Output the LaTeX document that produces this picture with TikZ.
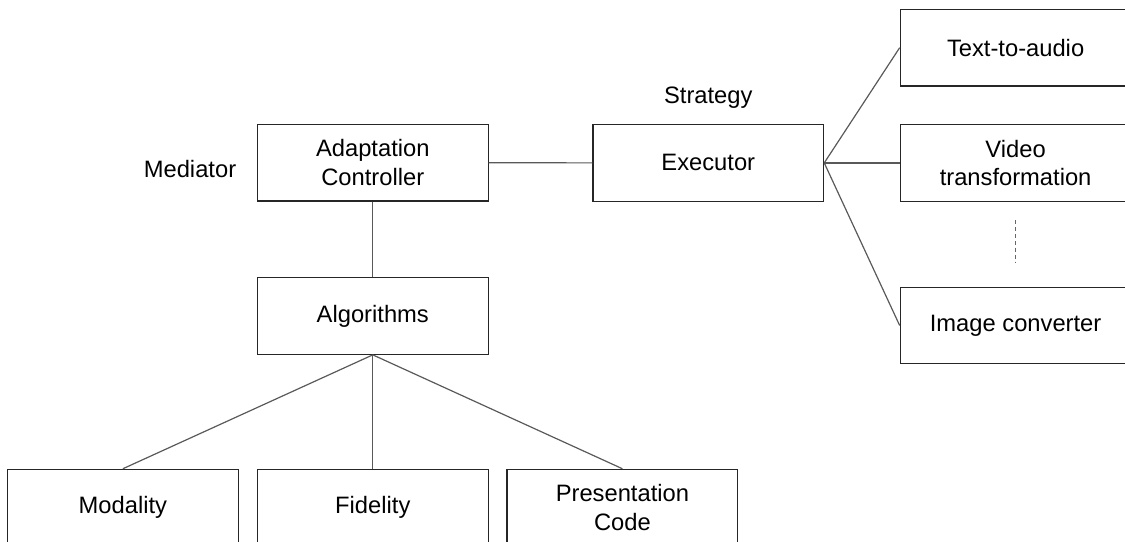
\documentclass[tikz,border=0pt]{standalone}
\usepackage{fontspec}
\setmainfont{Liberation Sans}
\begin{document}
\begin{tikzpicture}[x=0.75pt,y=-0.75pt,
  box/.style={draw=black!85, line width=0.9pt, rectangle, minimum width=173pt, minimum height=57.4pt, inner sep=0pt, align=center, font=\fontsize{17.8}{21.3}\selectfont},
  lbl/.style={inner sep=0pt, anchor=base, font=\fontsize{17.8}{21.3}\selectfont},
  conn/.style={draw=black!65, line width=0.9pt},
  dashline/.style={draw=black!60, line width=0.8pt, dash pattern=on 3pt off 2.2pt}]
\useasboundingbox (0,0) rectangle (1125,542);
\clip (0,0) rectangle (1125,542);
\node[box] (ac) at (372.8,162.7) {Adaptation\\Controller};
\node[box] (alg) at (372.8,316) {Algorithms};
\node[box] (ex) at (708.3,162.9) {Executor};
\node[box] (tta) at (1015.6,47.7) {Text-to-audio};
\node[box] (vid) at (1015.6,162.9) {Video\\transformation};
\node[box] (img) at (1015.6,325.5) {Image converter};
\node[box] (mod) at (122.9,507.6) {Modality};
\node[box] (fid) at (372.8,507.6) {Fidelity};
\node[box] (pre) at (622.4,507.6) {Presentation\\Code};
\node[lbl] (med) at (190,177) {Mediator};
\node[lbl] (str) at (708.3,103.5) {Strategy};
\coordinate (d1) at (1015.7,220);
\coordinate (d2) at (1015.7,263);
\draw[conn] (ac.east) -- (ex.west);
\draw[conn] (ac.south) -- (alg.north);
\draw[conn] (alg.south) -- (mod.north);
\draw[conn] (alg.south) -- (fid.north);
\draw[conn] (alg.south) -- (pre.north);
\draw[conn] (ex.east) -- (tta.west);
\draw[conn] (ex.east) -- (vid.west);
\draw[conn] (ex.east) -- (img.west);
\draw[dashline] (d1) -- (d2);
\end{tikzpicture}
\end{document}
